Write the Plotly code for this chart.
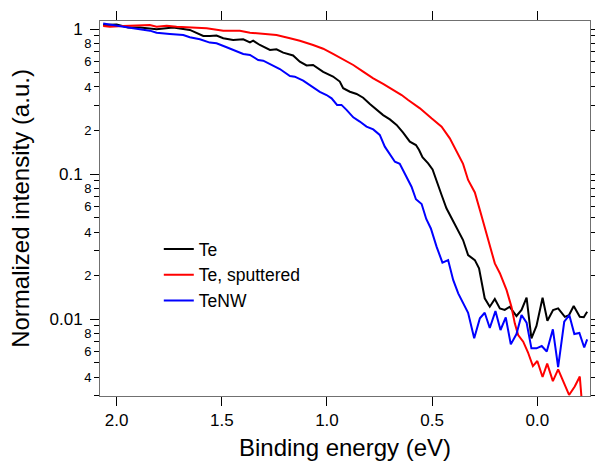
import plotly.graph_objects as go
import numpy as np

# ---- data ----
E_te = [2.064, 2.000, 1.945, 1.889, 1.810, 1.731, 1.652, 1.620, 1.588, 1.557, 1.525, 1.493, 1.446, 1.398,
        1.366, 1.351, 1.319, 1.271, 1.240, 1.208, 1.161, 1.129, 1.097, 1.066, 1.018, 0.971, 0.939, 0.923,
        0.891, 0.859, 0.828, 0.796, 0.764, 0.733, 0.701, 0.669, 0.638, 0.606, 0.577, 0.562, 0.546, 0.519,
        0.498, 0.479, 0.455, 0.432, 0.408, 0.376, 0.353, 0.329, 0.297, 0.277, 0.265, 0.250, 0.226, 0.202,
        0.178, 0.155, 0.131, 0.099, 0.075, 0.051, 0.028, 0.004, -0.025, -0.048, -0.075, -0.099, -0.131,
        -0.151, -0.173, -0.202, -0.221, -0.237]
I_te = [1.07, 1.08, 1.03, 1.03, 1.00, 1.03, 0.99, 0.947, 0.899, 0.899, 0.906, 0.867, 0.844, 0.853,
        0.813, 0.834, 0.779, 0.720, 0.728, 0.690, 0.659, 0.598, 0.563, 0.567, 0.508, 0.472, 0.436, 0.392,
        0.371, 0.358, 0.337, 0.305, 0.278, 0.256, 0.239, 0.219, 0.194, 0.168, 0.159, 0.147, 0.131, 0.119,
        0.108, 0.0889, 0.0720, 0.0583, 0.0498, 0.0413, 0.0352, 0.0277, 0.0256, 0.0225, 0.0177, 0.01396,
        0.01222, 0.0138, 0.0119, 0.0116, 0.0122, 0.01054, 0.0116, 0.0141, 0.0074, 0.0090, 0.0141, 0.00978,
        0.0116, 0.0119, 0.0104, 0.0107, 0.01236, 0.0104, 0.01033, 0.01127]

E_sp = [2.064, 2.032, 1.969, 1.889, 1.842, 1.810, 1.762, 1.715, 1.652, 1.572, 1.493, 1.414, 1.366, 1.303,
        1.240, 1.176, 1.129, 1.066, 1.018, 0.971, 0.923, 0.875, 0.828, 0.780, 0.733, 0.685, 0.645, 0.614,
        0.558, 0.503, 0.455, 0.416, 0.384, 0.353, 0.329, 0.297, 0.273, 0.250, 0.226, 0.202, 0.178, 0.146,
        0.123, 0.107, 0.091, 0.067, 0.045, 0.021, 0.000, -0.025, -0.047, -0.074, -0.099, -0.123, -0.151,
        -0.178, -0.202, -0.210]
I_sp = [1.054, 1.042, 1.054, 1.07, 1.07, 1.042, 1.059, 1.042, 1.032, 1.016, 0.978, 0.978, 0.947, 0.928,
        0.913, 0.867, 0.834, 0.779, 0.734, 0.676, 0.621, 0.567, 0.510, 0.459, 0.420, 0.382, 0.352, 0.325,
        0.285, 0.243, 0.213, 0.177, 0.143, 0.118, 0.0914, 0.0749, 0.0567, 0.0435, 0.0334, 0.0243, 0.0208,
        0.0159, 0.0122, 0.00938, 0.00779, 0.00701, 0.00595, 0.00476, 0.00516, 0.00400, 0.00495, 0.00375,
        0.00452, 0.00370, 0.00301, 0.00344, 0.00403, 0.00290]

E_nw = [2.064, 2.000, 1.921, 1.842, 1.810, 1.747, 1.683, 1.652, 1.604, 1.557, 1.525, 1.477, 1.430, 1.398,
        1.366, 1.327, 1.303, 1.271, 1.224, 1.176, 1.153, 1.113, 1.073, 1.034, 1.002, 0.978, 0.952, 0.931,
        0.907, 0.875, 0.844, 0.812, 0.780, 0.749, 0.725, 0.701, 0.677, 0.654, 0.638, 0.614, 0.598, 0.577,
        0.550, 0.528, 0.506, 0.479, 0.451, 0.424, 0.400, 0.376, 0.353, 0.329, 0.300, 0.273, 0.250, 0.226,
        0.199, 0.175, 0.150, 0.126, 0.099, 0.075, 0.051, 0.028, 0.004, -0.021, -0.045, -0.074, -0.099,
        -0.128, -0.152, -0.176, -0.200, -0.223, -0.237]
I_nw = [1.096, 1.054, 1.016, 0.978, 0.947, 0.928, 0.913, 0.881, 0.853, 0.809, 0.800, 0.751, 0.701, 0.676,
        0.665, 0.614, 0.607, 0.576, 0.532, 0.476, 0.471, 0.442, 0.402, 0.370, 0.352, 0.334, 0.301, 0.301,
        0.278, 0.247, 0.231, 0.213, 0.204, 0.187, 0.155, 0.136, 0.122, 0.118, 0.107, 0.0914, 0.0821, 0.0673,
        0.0624, 0.0492, 0.0423, 0.0317, 0.0246, 0.0256, 0.0187, 0.0151, 0.0129, 0.0111, 0.0074, 0.01016,
        0.0111, 0.00871, 0.0114, 0.00844, 0.0103, 0.00672, 0.00792, 0.0107, 0.00948, 0.00631, 0.00631,
        0.00654, 0.00600, 0.00853, 0.00469, 0.00962, 0.0107, 0.00792, 0.00805, 0.00639, 0.00728]

series_names = ["Te", "Te, sputtered", "TeNW"]

x_ticks = [2.0, 1.5, 1.0, 0.5, 0.0]
x_range = [2.079, -0.2505]
y_range = [0.00296, 1.14]

decade_vals = [1, 0.1, 0.01]
decade_text = ["1", "0.1", "0.01"]
sub_vals = [0.8, 0.6, 0.4, 0.2, 0.08, 0.06, 0.04, 0.02, 0.008, 0.006, 0.004]
sub_text = ["8", "6", "4", "2", "8", "6", "4", "2", "8", "6", "4"]
minor_vals = [0.9, 0.7, 0.5, 0.3, 0.09, 0.07, 0.05, 0.03, 0.009, 0.007, 0.005, 0.003]

FONT = "Liberation Sans, Arial, sans-serif"

fig = go.Figure()
for E, I, name, col in [(E_te, I_te, series_names[0], "#000000"),
                        (E_sp, I_sp, series_names[1], "#ff0000"),
                        (E_nw, I_nw, series_names[2], "#0000ff")]:
    fig.add_trace(go.Scatter(x=E, y=I, mode="lines", name=name,
                             line=dict(color=col, width=2)))

yr = [np.log10(y_range[0]), np.log10(y_range[1])]

fig.update_layout(
    width=595, height=464,
    margin=dict(l=100, r=5, t=21, b=68),
    paper_bgcolor="white", plot_bgcolor="white",
    font=dict(family=FONT, color="black"),
    showlegend=True,
    legend=dict(x=0.12, y=0.44, xanchor="left", yanchor="top",
                bgcolor="rgba(0,0,0,0)", font=dict(size=17.5, family=FONT),
                tracegroupgap=0),
    xaxis=dict(range=x_range, tickvals=x_ticks, tickformat=".1f", automargin=False,
               ticks="outside", ticklen=9, tickwidth=1, tickcolor="black",
               showline=True, linecolor="#707070", linewidth=1, mirror="ticks",
               showgrid=False, zeroline=False,
               tickfont=dict(size=17, family=FONT),
               title=dict(text="Binding energy (eV)", font=dict(size=24, family=FONT), standoff=9)),
    yaxis=dict(type="log", range=yr, tickmode="array", tickvals=sub_vals, ticktext=sub_text,
               automargin=False,
               ticks="outside", ticklen=5, tickwidth=1, tickcolor="black",
               showline=True, linecolor="#707070", linewidth=1, mirror="ticks",
               showgrid=False, zeroline=False,
               tickfont=dict(size=13, family=FONT),
               minor=dict(tickmode="array", tickvals=minor_vals, ticks="outside", ticklen=5,
                          tickcolor="black", showgrid=False)),
    yaxis2=dict(type="log", range=yr, overlaying="y", side="left", anchor="x",
                automargin=False,
                tickmode="array", tickvals=decade_vals, ticktext=decade_text,
                ticks="outside", ticklen=9, tickwidth=1, tickcolor="black",
                ticklabelstandoff=4,
                showline=True, linecolor="#707070", linewidth=1, mirror="ticks",
                showgrid=False, zeroline=False,
                tickfont=dict(size=17, family=FONT),
                title=dict(text="Normalized intensity (a.u.)", font=dict(size=24, family=FONT), standoff=13)),
)
# invisible trace to activate yaxis2
fig.add_trace(go.Scatter(x=[E_te[0]], y=[I_te[0]], yaxis="y2", mode="lines",
                         showlegend=False, hoverinfo="skip", line=dict(width=0)))

fig.write_html("out.html")
